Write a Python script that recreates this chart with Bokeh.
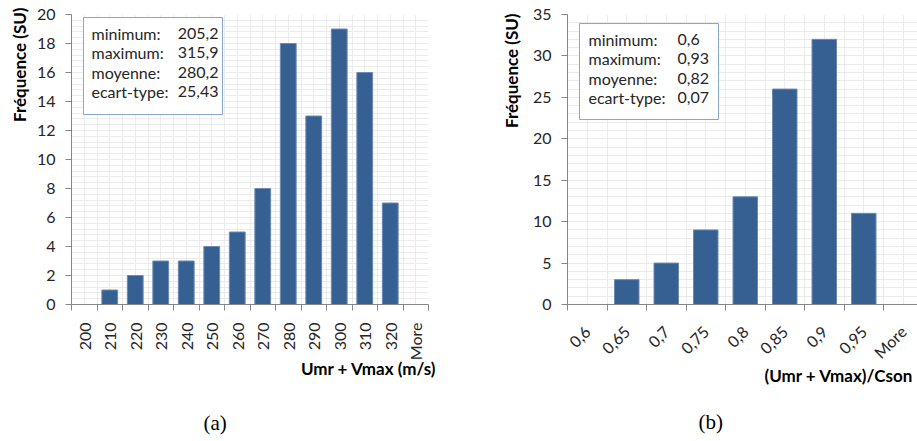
import math
from bokeh.plotting import figure
from bokeh.models import FixedTicker, Title, Range1d
from bokeh.layouts import row
from bokeh.embed import file_html
from bokeh.resources import INLINE
from bokeh.core.properties import value

# ---- data ----
cats_a = ["200", "210", "220", "230", "240", "250", "260", "270", "280",
          "290", "300", "310", "320", "More"]
counts_a = [0, 1, 2, 3, 3, 4, 5, 8, 18, 13, 19, 16, 7, 0]
yticks_a = [0, 2, 4, 6, 8, 10, 12, 14, 16, 18, 20]

cats_b = ["0,6", "0,65", "0,7", "0,75", "0,8", "0,85", "0,9", "0,95", "More"]
counts_b = [0, 3, 5, 9, 13, 26, 32, 11, 0]
yticks_b = [0, 5, 10, 15, 20, 25, 30, 35]

stat_names = ["minimum:", "maximum:", "moyenne:", "ecart-type:"]
stats_a = ["205,2", "315,9", "280,2", "25,43"]
stats_b = ["0,6", "0,93", "0,82", "0,07"]

ylabel = "Fréquence (SU)"
xlabel_a = "Umr + Vmax (m/s)"
xlabel_b = "(Umr + Vmax)/Cson"
caption_a = "(a)"
caption_b = "(b)"

# ---- style ----
FONT = "Lato"
TXT = "#262626"
AX = "#868686"
GRID = "#ebebeb"
BAR = "#376092"
BAR_EDGE = "#6a8bb5"
BOX_EDGE = "#86a5d3"
FS = "16px"
FS_BOLD = "17px"


def set_standoff(t, s):
    try:
        t.standoff = s
    except Exception:
        t.standoff = 0


def make_panel(cats, counts, yticks, n_minor, x_end, width, borders,
               box, row_y0, row_dy, name_x, val_x, val_align, vals,
               orient, lab_standoff, yl_standoff, yl_offset,
               xlabel, xl_align, xl_offset, xl_standoff, spacer_standoff,
               caption, cap_offset, cap_standoff):
    n = len(cats)
    p = figure(width=width, height=441, output_backend="svg",
               toolbar_location=None, x_range=Range1d(0, x_end),
               y_range=Range1d(0, yticks[-1]))
    p.min_border_left, p.min_border_right, p.min_border_top, p.min_border_bottom = borders
    p.outline_line_color = None
    p.background_fill_color = "white"
    p.border_fill_color = "white"

    centers = [i + 0.5 for i in range(n)]
    bounds = [i for i in range(n + 1)]
    step = yticks[1] - yticks[0]
    yminor = [k * step / n_minor for k in range(len(yticks) * n_minor)]

    p.xaxis.ticker = FixedTicker(ticks=centers, minor_ticks=bounds)
    p.xaxis.major_label_overrides = {c: lab for c, lab in zip(centers, cats)}
    p.xaxis.major_tick_line_color = None
    p.xaxis.major_tick_out = 0
    p.xaxis.major_tick_in = 0
    p.xaxis.minor_tick_line_color = AX
    p.xaxis.minor_tick_out = 6
    p.xaxis.minor_tick_in = 0
    p.xaxis.axis_line_color = AX
    p.xaxis.major_label_orientation = orient
    p.xaxis.major_label_standoff = lab_standoff

    p.yaxis.ticker = FixedTicker(ticks=yticks, minor_ticks=yminor)
    p.yaxis.major_tick_line_color = AX
    p.yaxis.major_tick_out = 6
    p.yaxis.major_tick_in = 0
    p.yaxis.minor_tick_line_color = None
    p.yaxis.axis_line_color = AX
    p.yaxis.major_label_standoff = 10

    for ax in (p.xaxis[0], p.yaxis[0]):
        ax.major_label_text_font = FONT
        ax.major_label_text_font_size = FS
        ax.major_label_text_color = TXT

    p.xgrid.grid_line_color = GRID
    p.xgrid.minor_grid_line_color = GRID
    p.ygrid.grid_line_color = GRID
    p.ygrid.minor_grid_line_color = GRID

    p.vbar(x=centers, top=counts, width=0.62, fill_color=BAR,
           line_color=BAR_EDGE, line_width=1)

    bl, br, bt, bb = box
    p.quad(left=[bl], right=[br], top=[bt], bottom=[bb], fill_color="white",
           line_color=BOX_EDGE, line_width=1)
    ys = [row_y0 - i * row_dy for i in range(len(stat_names))]
    p.text(x=[name_x] * len(ys), y=ys, text=stat_names, text_font=value(FONT),
           text_font_size=FS, text_color=TXT, text_baseline="middle",
           text_align="left")
    p.text(x=[val_x] * len(ys), y=ys, text=vals, text_font=value(FONT),
           text_font_size=FS, text_color=TXT, text_baseline="middle",
           text_align=val_align)

    yt = Title(text=ylabel, text_font=FONT, text_font_size=FS_BOLD,
               text_font_style="bold", text_color="black", align="right",
               vertical_align="top", offset=yl_offset, standoff=yl_standoff)
    p.add_layout(yt, "left")

    xt = Title(text=xlabel, text_font=FONT, text_font_size=FS_BOLD,
               text_font_style="bold", text_color="black", align=xl_align,
               offset=xl_offset)
    set_standoff(xt, xl_standoff)
    p.add_layout(xt, "below")

    sp = Title(text=" ", text_font=FONT, text_font_size="16px",
               standoff=spacer_standoff)
    p.add_layout(sp, "below")

    ct = Title(text=caption, text_font="Liberation Serif", text_font_size="21px",
               text_font_style="normal", text_color="black", align="left",
               offset=cap_offset, standoff=cap_standoff)
    p.add_layout(ct, "below")
    return p


pa = make_panel(cats_a, counts_a, yticks_a, 5, 14, 458, (71, 30, 14, 137),
                (0.47, 5.92, 19.79, 13.10), 18.69, 1.33, 0.784, 5.765, "right",
                stats_a, math.pi / 2, 12, 4, -7,
                xlabel_a, "right", -8, -16, 13,
                caption_a, 132, 8)

pb = make_panel(cats_b, counts_b, yticks_b, 5, 8.86, 459, (109, 0, 14, 137),
                (0.304, 3.823, 33.91, 22.33), 31.98, 2.33, 0.532, 2.785, "left",
                stats_b, math.pi / 4, 18, 12, -1,
                xlabel_b, "left", 197, -28, 11,
                caption_b, 131, 8)

layout = row(pa, pb)
open("out.html", "w").write(file_html(layout, INLINE))
